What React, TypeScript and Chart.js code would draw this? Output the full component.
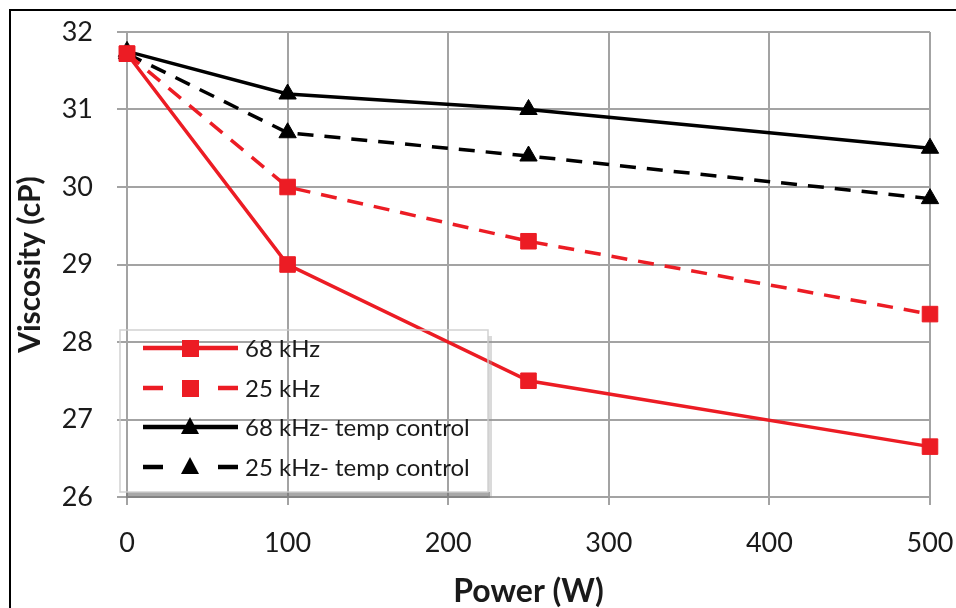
import React, { useEffect, useRef } from "react";
import { Chart, registerables } from "chart.js";

Chart.register(...registerables);

const powerW = [0, 100, 250, 500];
const visc68 = [31.72, 29.0, 27.5, 26.65];
const visc25 = [31.72, 30.0, 29.3, 28.36];
const visc68Temp = [31.75, 31.2, 31.0, 30.5];
const visc25Temp = [31.72, 30.7, 30.4, 29.85];
const seriesLabels = ["68 kHz", "25 kHz", "68 kHz- temp control", "25 kHz- temp control"];
const xTitle = "Power (W)";
const yTitle = "Viscosity (cP)";

const RED = "#ec1c24";
const BLACK = "#000000";
const GRID = "#a3a3a3";
const FONT = "Lato, 'Open Sans', sans-serif";

const toPts = (vals: number[]) => vals.map((v, i) => ({ x: powerW[i], y: v }));

const legendPlugin = {
  id: "insideLegend",
  afterDatasetsDraw(chart: any) {
    const ctx = chart.ctx as CanvasRenderingContext2D;
    const bx = 120, by = 330, bw = 368, bh = 162;
    ctx.save();
    ctx.fillStyle = "rgba(110,110,110,0.6)";
    ctx.fillRect(bx + 6, by + bh, bw - 4, 6);
    ctx.fillStyle = "rgba(150,150,150,0.35)";
    ctx.fillRect(bx + bw, by + 6, 4, bh);
    ctx.strokeStyle = "rgba(205,205,205,0.9)";
    ctx.lineWidth = 1.5;
    ctx.strokeRect(bx, by, bw, bh);

    const rows = [348, 388, 427, 467];
    chart.data.datasets.forEach((ds: any, i: number) => {
      const y = rows[i];
      ctx.strokeStyle = ds.borderColor;
      ctx.lineWidth = 4.5;
      if (ds.borderDash && ds.borderDash.length) {
        ctx.setLineDash([20, 55]);
      } else {
        ctx.setLineDash([]);
      }
      ctx.beginPath();
      ctx.moveTo(143, y);
      ctx.lineTo(238, y);
      ctx.stroke();
      ctx.setLineDash([]);
      ctx.fillStyle = ds.pointBackgroundColor;
      if (ds.pointStyle === "rect") {
        ctx.fillRect(182, y - 8, 17, 17);
      } else {
        ctx.beginPath();
        ctx.moveTo(190, y - 10);
        ctx.lineTo(199, y + 7);
        ctx.lineTo(181, y + 7);
        ctx.closePath();
        ctx.fill();
      }
      ctx.fillStyle = "#1a1a1a";
      ctx.font = `24px ${FONT}`;
      ctx.textBaseline = "middle";
      ctx.textAlign = "left";
      ctx.fillText(seriesLabels[i], 245, y + 1);
    });
    ctx.restore();
  },
};

export default function App() {
  const canvasRef = useRef<HTMLCanvasElement | null>(null);

  useEffect(() => {
    const canvas = canvasRef.current;
    if (!canvas) return;
    const mk = (i: number, data: number[], color: string, dashed: boolean, style: string) => ({
      label: seriesLabels[i],
      data: toPts(data),
      borderColor: color,
      backgroundColor: color,
      pointBackgroundColor: color,
      pointBorderColor: color,
      borderWidth: 3.5,
      borderDash: dashed ? [16, 11] : [],
      pointStyle: style,
      pointRadius: style === "rect" ? 11 : 10,
      pointBorderWidth: 1,
      tension: 0,
      fill: false,
      clip: false,
    });
    const zeroPad = (s: any) => {
      s.paddingLeft = 0;
      s.paddingRight = 0;
      s.paddingTop = 0;
      s.paddingBottom = 0;
    };
    const chart = new Chart(canvas, {
      type: "line",
      data: {
        datasets: [
          mk(0, visc68, RED, false, "rect"),
          mk(1, visc25, RED, true, "rect"),
          mk(2, visc68Temp, BLACK, false, "triangle"),
          mk(3, visc25Temp, BLACK, true, "triangle"),
        ],
      },
      options: {
        responsive: false,
        animation: false,
        devicePixelRatio: 1,
        layout: { padding: { left: 12, top: 32, right: 26, bottom: 0 } },
        plugins: { legend: { display: false }, tooltip: { enabled: false } },
        scales: {
          x: {
            type: "linear",
            min: 0,
            max: 500,
            ticks: { stepSize: 100, color: "#1a1a1a", font: { family: FONT, size: 27 }, padding: 22 },
            grid: { color: GRID, lineWidth: 2, tickLength: 8, tickColor: GRID },
            border: { color: GRID, width: 2 },
            title: { display: true, text: xTitle, color: "#1a1a1a", font: { family: FONT, size: 32, weight: "bold", lineHeight: 1.0 }, padding: 0 },
            afterFit: (s: any) => { s.height = 111; zeroPad(s); },
          },
          y: {
            min: 26,
            max: 32,
            ticks: { stepSize: 1, color: "#1a1a1a", font: { family: FONT, size: 27 }, padding: 24 },
            grid: { color: GRID, lineWidth: 2, tickLength: 10, tickColor: GRID },
            border: { color: GRID, width: 2 },
            title: { display: true, text: yTitle, color: "#1a1a1a", font: { family: FONT, size: 30, weight: "bold" }, padding: 0 },
            afterFit: (s: any) => { s.width = 115; zeroPad(s); },
          },
        },
      },
      plugins: [legendPlugin],
    } as any);
    return () => chart.destroy();
  }, []);

  return (
    <div style={{ position: "fixed", left: 0, top: 0, width: 956, height: 608, overflow: "hidden", background: "#fff" }}>
      <div style={{ position: "absolute", left: 9, top: 9, width: 1000, height: 700, borderTop: "2px solid #000", borderLeft: "2px solid #000" }} />
      <canvas ref={canvasRef} width={956} height={608} style={{ position: "absolute", left: 0, top: 0 }} />
    </div>
  );
}
